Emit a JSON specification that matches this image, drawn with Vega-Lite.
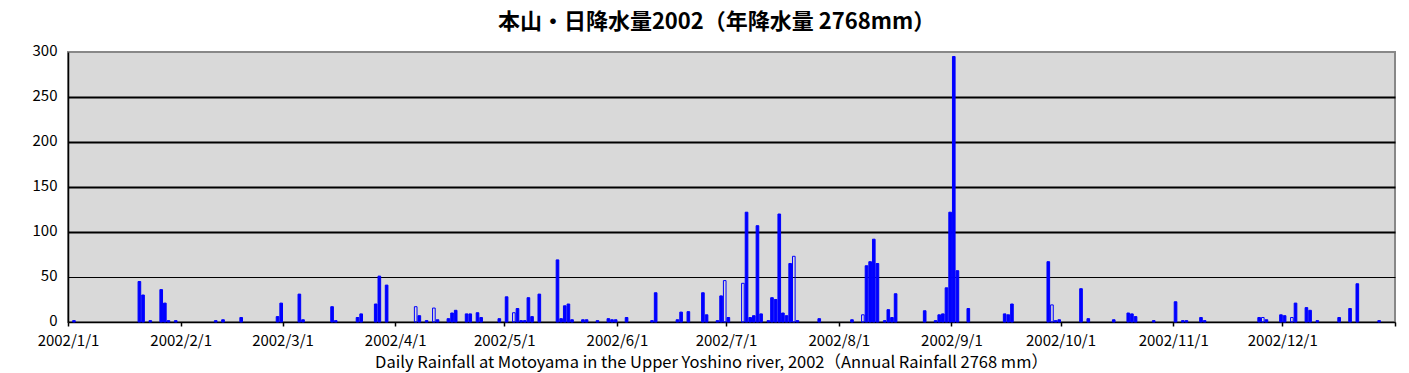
{
  "$schema": "https://vega.github.io/schema/vega-lite/v6.json",
  "autosize": {"type": "none"},
  "padding": {"left": 68, "top": 52, "right": 14, "bottom": 51},
  "width": 1327,
  "height": 270,
  "background": "#FFFFFF",
  "title": {
    "text": "本山・日降水量2002（年降水量 2768mm）",
    "font": "Noto Sans CJK JP",
    "fontSize": 22,
    "fontWeight": "bold",
    "color": "#000000",
    "anchor": "middle",
    "offset": 9,
    "dx": -15
  },
  "config": {
    "view": {"fill": "#D9D9D9", "stroke": "#888888", "strokeWidth": 2},
    "axis": {"labelFont": "Noto Sans CJK JP", "titleFont": "Noto Sans CJK JP", "labelColor": "#000000", "titleColor": "#000000"}
  },
  "data": {
    "values": [
      {"date": "2002-01-02", "mm": 1.5, "status": "observed"},
      {"date": "2002-01-20", "mm": 45, "status": "observed"},
      {"date": "2002-01-21", "mm": 30, "status": "observed"},
      {"date": "2002-01-23", "mm": 1.5, "status": "observed"},
      {"date": "2002-01-26", "mm": 36, "status": "observed"},
      {"date": "2002-01-27", "mm": 21, "status": "observed"},
      {"date": "2002-01-28", "mm": 1.5, "status": "observed"},
      {"date": "2002-01-30", "mm": 1.5, "status": "observed"},
      {"date": "2002-02-10", "mm": 1.5, "status": "observed"},
      {"date": "2002-02-12", "mm": 2.5, "status": "observed"},
      {"date": "2002-02-17", "mm": 5, "status": "observed"},
      {"date": "2002-02-27", "mm": 6, "status": "observed"},
      {"date": "2002-02-28", "mm": 21, "status": "observed"},
      {"date": "2002-03-05", "mm": 31, "status": "observed"},
      {"date": "2002-03-06", "mm": 2.5, "status": "observed"},
      {"date": "2002-03-14", "mm": 17, "status": "observed"},
      {"date": "2002-03-15", "mm": 1.5, "status": "observed"},
      {"date": "2002-03-21", "mm": 5, "status": "observed"},
      {"date": "2002-03-22", "mm": 9, "status": "observed"},
      {"date": "2002-03-26", "mm": 20, "status": "observed"},
      {"date": "2002-03-27", "mm": 51, "status": "observed"},
      {"date": "2002-03-29", "mm": 41, "status": "observed"},
      {"date": "2002-04-06", "mm": 17, "status": "estimated"},
      {"date": "2002-04-07", "mm": 7, "status": "observed"},
      {"date": "2002-04-09", "mm": 1.5, "status": "observed"},
      {"date": "2002-04-11", "mm": 15.5, "status": "estimated"},
      {"date": "2002-04-12", "mm": 2.5, "status": "observed"},
      {"date": "2002-04-15", "mm": 3.7, "status": "observed"},
      {"date": "2002-04-16", "mm": 10, "status": "observed"},
      {"date": "2002-04-17", "mm": 13, "status": "observed"},
      {"date": "2002-04-20", "mm": 9, "status": "observed"},
      {"date": "2002-04-21", "mm": 9, "status": "observed"},
      {"date": "2002-04-23", "mm": 10.3, "status": "observed"},
      {"date": "2002-04-24", "mm": 5, "status": "observed"},
      {"date": "2002-04-29", "mm": 3.7, "status": "observed"},
      {"date": "2002-05-01", "mm": 28, "status": "observed"},
      {"date": "2002-05-03", "mm": 10.3, "status": "estimated"},
      {"date": "2002-05-04", "mm": 15, "status": "observed"},
      {"date": "2002-05-05", "mm": 1.5, "status": "observed"},
      {"date": "2002-05-06", "mm": 1.5, "status": "observed"},
      {"date": "2002-05-07", "mm": 27, "status": "observed"},
      {"date": "2002-05-08", "mm": 6, "status": "observed"},
      {"date": "2002-05-10", "mm": 31, "status": "observed"},
      {"date": "2002-05-15", "mm": 69, "status": "observed"},
      {"date": "2002-05-16", "mm": 3.7, "status": "observed"},
      {"date": "2002-05-17", "mm": 18, "status": "observed"},
      {"date": "2002-05-18", "mm": 20, "status": "observed"},
      {"date": "2002-05-19", "mm": 2.5, "status": "observed"},
      {"date": "2002-05-22", "mm": 2.5, "status": "observed"},
      {"date": "2002-05-23", "mm": 2.5, "status": "observed"},
      {"date": "2002-05-26", "mm": 1.5, "status": "observed"},
      {"date": "2002-05-29", "mm": 3.7, "status": "observed"},
      {"date": "2002-05-30", "mm": 2.5, "status": "observed"},
      {"date": "2002-05-31", "mm": 2.5, "status": "observed"},
      {"date": "2002-06-03", "mm": 5, "status": "observed"},
      {"date": "2002-06-10", "mm": 1.5, "status": "observed"},
      {"date": "2002-06-11", "mm": 32.5, "status": "observed"},
      {"date": "2002-06-17", "mm": 2.5, "status": "observed"},
      {"date": "2002-06-18", "mm": 11, "status": "observed"},
      {"date": "2002-06-20", "mm": 11.5, "status": "observed"},
      {"date": "2002-06-24", "mm": 32.5, "status": "observed"},
      {"date": "2002-06-25", "mm": 8, "status": "observed"},
      {"date": "2002-06-28", "mm": 1.5, "status": "observed"},
      {"date": "2002-06-29", "mm": 29, "status": "observed"},
      {"date": "2002-06-30", "mm": 46, "status": "estimated"},
      {"date": "2002-07-01", "mm": 5, "status": "observed"},
      {"date": "2002-07-05", "mm": 43, "status": "estimated"},
      {"date": "2002-07-06", "mm": 122, "status": "observed"},
      {"date": "2002-07-07", "mm": 5, "status": "observed"},
      {"date": "2002-07-08", "mm": 7, "status": "observed"},
      {"date": "2002-07-09", "mm": 107, "status": "observed"},
      {"date": "2002-07-10", "mm": 9, "status": "observed"},
      {"date": "2002-07-12", "mm": 1.5, "status": "observed"},
      {"date": "2002-07-13", "mm": 27, "status": "observed"},
      {"date": "2002-07-14", "mm": 25, "status": "observed"},
      {"date": "2002-07-15", "mm": 120, "status": "observed"},
      {"date": "2002-07-16", "mm": 10, "status": "observed"},
      {"date": "2002-07-17", "mm": 7, "status": "observed"},
      {"date": "2002-07-18", "mm": 65, "status": "observed"},
      {"date": "2002-07-19", "mm": 73, "status": "estimated"},
      {"date": "2002-07-20", "mm": 1.5, "status": "observed"},
      {"date": "2002-07-26", "mm": 3.7, "status": "observed"},
      {"date": "2002-08-04", "mm": 2.5, "status": "observed"},
      {"date": "2002-08-07", "mm": 8, "status": "estimated"},
      {"date": "2002-08-08", "mm": 62.5, "status": "observed"},
      {"date": "2002-08-09", "mm": 67, "status": "observed"},
      {"date": "2002-08-10", "mm": 92, "status": "observed"},
      {"date": "2002-08-11", "mm": 65, "status": "observed"},
      {"date": "2002-08-13", "mm": 1.5, "status": "observed"},
      {"date": "2002-08-14", "mm": 13.7, "status": "observed"},
      {"date": "2002-08-15", "mm": 5, "status": "observed"},
      {"date": "2002-08-16", "mm": 31.4, "status": "observed"},
      {"date": "2002-08-24", "mm": 12.5, "status": "observed"},
      {"date": "2002-08-27", "mm": 1.5, "status": "observed"},
      {"date": "2002-08-28", "mm": 8, "status": "observed"},
      {"date": "2002-08-29", "mm": 9, "status": "observed"},
      {"date": "2002-08-30", "mm": 38, "status": "observed"},
      {"date": "2002-08-31", "mm": 122, "status": "observed"},
      {"date": "2002-09-01", "mm": 295, "status": "observed"},
      {"date": "2002-09-02", "mm": 57, "status": "observed"},
      {"date": "2002-09-05", "mm": 15, "status": "observed"},
      {"date": "2002-09-15", "mm": 9, "status": "observed"},
      {"date": "2002-09-16", "mm": 8, "status": "observed"},
      {"date": "2002-09-17", "mm": 20, "status": "observed"},
      {"date": "2002-09-27", "mm": 67, "status": "observed"},
      {"date": "2002-09-28", "mm": 19, "status": "estimated"},
      {"date": "2002-09-29", "mm": 1.5, "status": "observed"},
      {"date": "2002-09-30", "mm": 2.5, "status": "observed"},
      {"date": "2002-10-06", "mm": 37, "status": "observed"},
      {"date": "2002-10-08", "mm": 3.7, "status": "observed"},
      {"date": "2002-10-15", "mm": 2.5, "status": "observed"},
      {"date": "2002-10-19", "mm": 10, "status": "observed"},
      {"date": "2002-10-20", "mm": 9, "status": "observed"},
      {"date": "2002-10-21", "mm": 6, "status": "observed"},
      {"date": "2002-10-26", "mm": 1.5, "status": "observed"},
      {"date": "2002-11-01", "mm": 22.5, "status": "observed"},
      {"date": "2002-11-03", "mm": 1.5, "status": "observed"},
      {"date": "2002-11-04", "mm": 1.5, "status": "observed"},
      {"date": "2002-11-08", "mm": 5, "status": "observed"},
      {"date": "2002-11-09", "mm": 1.5, "status": "observed"},
      {"date": "2002-11-24", "mm": 5, "status": "observed"},
      {"date": "2002-11-25", "mm": 5, "status": "estimated"},
      {"date": "2002-11-26", "mm": 2.5, "status": "observed"},
      {"date": "2002-11-30", "mm": 8, "status": "observed"},
      {"date": "2002-12-01", "mm": 7, "status": "observed"},
      {"date": "2002-12-03", "mm": 5, "status": "estimated"},
      {"date": "2002-12-04", "mm": 21, "status": "observed"},
      {"date": "2002-12-07", "mm": 16, "status": "observed"},
      {"date": "2002-12-08", "mm": 13, "status": "observed"},
      {"date": "2002-12-10", "mm": 1.5, "status": "observed"},
      {"date": "2002-12-16", "mm": 5, "status": "observed"},
      {"date": "2002-12-19", "mm": 15, "status": "observed"},
      {"date": "2002-12-21", "mm": 42.5, "status": "observed"},
      {"date": "2002-12-27", "mm": 1.5, "status": "observed"}
    ]
  },
  "mark": {"type": "bar", "timeUnitBandSize": 0.72, "timeUnitBandPosition": 0, "stroke": "#0000FF", "strokeWidth": 1},
  "encoding": {
    "x": {
      "field": "date",
      "type": "temporal",
      "timeUnit": "utcyearmonthdate",
      "scale": {"type": "utc", "domain": [{"year": 2002, "month": 1, "date": 1, "utc": true}, {"year": 2003, "month": 1, "date": 1, "utc": true}]},
      "axis": {
        "values": [
          {"year": 2002, "month": 1, "date": 1, "utc": true},
          {"year": 2002, "month": 2, "date": 1, "utc": true},
          {"year": 2002, "month": 3, "date": 1, "utc": true},
          {"year": 2002, "month": 4, "date": 1, "utc": true},
          {"year": 2002, "month": 5, "date": 1, "utc": true},
          {"year": 2002, "month": 6, "date": 1, "utc": true},
          {"year": 2002, "month": 7, "date": 1, "utc": true},
          {"year": 2002, "month": 8, "date": 1, "utc": true},
          {"year": 2002, "month": 9, "date": 1, "utc": true},
          {"year": 2002, "month": 10, "date": 1, "utc": true},
          {"year": 2002, "month": 11, "date": 1, "utc": true},
          {"year": 2002, "month": 12, "date": 1, "utc": true},
          {"year": 2003, "month": 1, "date": 1, "utc": true}
        ],
        "labelExpr": "utcyear(datum.value) > 2002 ? '' : utcFormat(datum.value, '%Y/%-m/%-d')",
        "labelOverlap": false,
        "labelFlush": false,
        "labelFontSize": 15,
        "labelPadding": 7,
        "tickColor": "#000000",
        "tickWidth": 1.5,
        "tickSize": 4,
        "domainColor": "#000000",
        "domainWidth": 1.5,
        "grid": false,
        "title": "Daily Rainfall at Motoyama in the Upper Yoshino river, 2002（Annual Rainfall 2768 mm）",
        "titleFontSize": 16.5,
        "titleFontWeight": "normal",
        "titlePadding": 6,
        "titleX": 643
      }
    },
    "y": {
      "field": "mm",
      "type": "quantitative",
      "scale": {"domain": [0, 300], "nice": false},
      "axis": {
        "values": [0, 50, 100, 150, 200, 250, 300],
        "ticks": false,
        "labelFontSize": 15,
        "labelPadding": 11,
        "labelOffset": -2,
        "domainColor": "#000000",
        "domainWidth": 1.5,
        "grid": true,
        "gridColor": "#000000",
        "gridWidth": {"condition": {"test": "datum.value == 50", "value": 1.2}, "value": 2},
        "gridOpacity": {"condition": {"test": "datum.value == 0 || datum.value == 300", "value": 0}, "value": 1},
        "title": null
      }
    },
    "fill": {
      "condition": {"test": "datum.status == 'estimated'", "value": "transparent"},
      "value": "#0000FF"
    }
  }
}
